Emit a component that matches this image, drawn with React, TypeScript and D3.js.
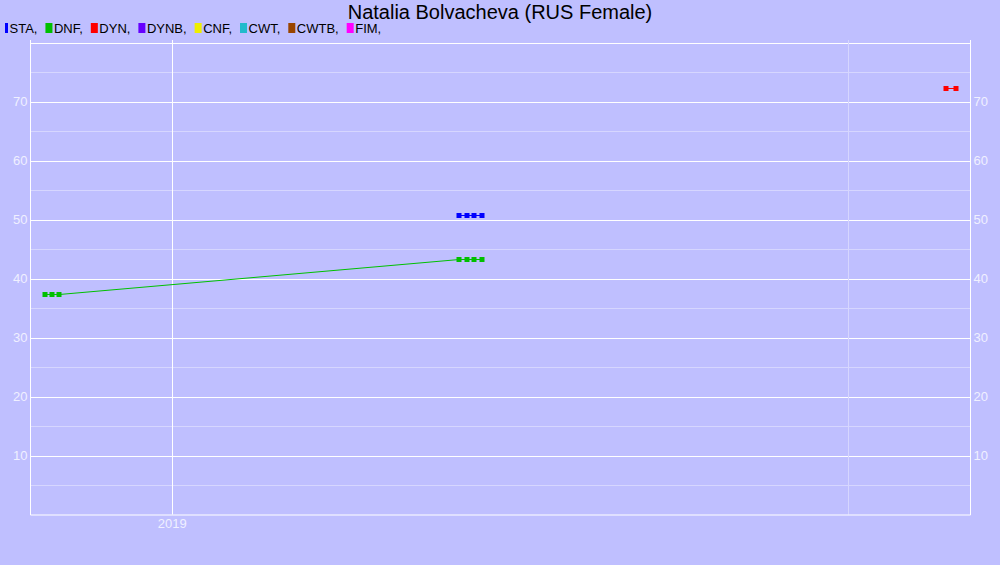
import React, { useEffect, useRef } from "react";
import * as d3 from "d3";

const title = "Natalia Bolvacheva (RUS Female)";
const legendNames = ["STA", "DNF", "DYN", "DYNB", "CNF", "CWT", "CWTB", "FIM"];
const legendColors = ["#0000FF", "#00C000", "#FF0000", "#6600FF", "#EEEE00", "#22BBCC", "#994400", "#FF00FF"];

const yTicks = [10, 20, 30, 40, 50, 60, 70];
const yMinor = [5, 15, 25, 35, 45, 55, 65, 75];
const xLabeledYears = ["2019"];
const xUnlabeledYears = ["2020"];

const staDates = ["2019-06-05", "2019-06-09", "2019-06-13", "2019-06-17"];
const staValues = [50.8, 50.8, 50.8, 50.8];

const dnfDates = ["2018-10-24", "2018-10-28", "2018-11-01", "2019-06-05", "2019-06-09", "2019-06-13", "2019-06-17"];
const dnfValues = [37.4, 37.4, 37.4, 43.3, 43.3, 43.3, 43.3];

const dynDates = ["2020-02-23", "2020-02-28"];
const dynValues = [72.3, 72.3];

const W = 1000;
const H = 565;
const plotLeft = 30.5;
const plotRight = 970.5;
const plotTop = 42.5;
const plotBottom = 514.5;

const parse = (s: string) => new Date(s + "T00:00:00Z");

export default function App() {
  const ref = useRef<SVGSVGElement | null>(null);

  useEffect(() => {
    const svg = d3.select(ref.current);
    svg.selectAll("*").remove();

    svg.append("rect").attr("width", W).attr("height", H).attr("fill", "#BFBFFF");

    const x = d3
      .scaleUtc()
      .domain([parse("2019-01-01"), parse("2020-01-01")])
      .range([172.3, 848.3]);
    const y = d3.scaleLinear().domain([0, 80]).range([plotBottom, plotTop]);

    const g = svg.append("g");

    g.selectAll("line.minor")
      .data(yMinor)
      .enter()
      .append("line")
      .attr("x1", plotLeft)
      .attr("x2", plotRight)
      .attr("y1", (d) => Math.round(y(d)) + 0.5)
      .attr("y2", (d) => Math.round(y(d)) + 0.5)
      .attr("stroke", "#D6D6FF")
      .attr("stroke-width", 1);

    g.selectAll("line.major")
      .data([...yTicks, 80])
      .enter()
      .append("line")
      .attr("x1", plotLeft)
      .attr("x2", plotRight)
      .attr("y1", (d) => Math.round(y(d)) + 0.5)
      .attr("y2", (d) => Math.round(y(d)) + 0.5)
      .attr("stroke", "#FFFFFF")
      .attr("stroke-width", 1);

    g.selectAll("line.vu")
      .data(xUnlabeledYears)
      .enter()
      .append("line")
      .attr("x1", (d) => Math.round(x(parse(d + "-01-01"))) + 0.5)
      .attr("x2", (d) => Math.round(x(parse(d + "-01-01"))) + 0.5)
      .attr("y1", 40)
      .attr("y2", plotBottom)
      .attr("stroke", "#D6D6FF");

    g.selectAll("line.vl")
      .data(xLabeledYears)
      .enter()
      .append("line")
      .attr("x1", (d) => Math.round(x(parse(d + "-01-01"))) + 0.5)
      .attr("x2", (d) => Math.round(x(parse(d + "-01-01"))) + 0.5)
      .attr("y1", 40)
      .attr("y2", plotBottom)
      .attr("stroke", "#FFFFFF");

    g.append("line").attr("x1", plotLeft).attr("x2", plotLeft).attr("y1", 40).attr("y2", plotBottom + 0.5).attr("stroke", "#FFFFFF");
    g.append("line").attr("x1", plotRight).attr("x2", plotRight).attr("y1", 40).attr("y2", plotBottom + 0.5).attr("stroke", "#FFFFFF");
    g.append("line").attr("x1", plotLeft).attr("x2", plotRight).attr("y1", plotBottom + 0.5).attr("y2", plotBottom + 0.5).attr("stroke", "#FFFFFF");

    const font = "Arial, 'Liberation Sans', sans-serif";
    g.selectAll("text.yl")
      .data(yTicks)
      .enter()
      .append("text")
      .attr("x", 27.5)
      .attr("y", (d) => y(d))
      .attr("dy", "0.36em")
      .attr("text-anchor", "end")
      .attr("font-family", font)
      .attr("font-size", 13)
      .attr("fill", "#F0F0FF")
      .text((d) => d);
    g.selectAll("text.yr")
      .data(yTicks)
      .enter()
      .append("text")
      .attr("x", 973.5)
      .attr("y", (d) => y(d))
      .attr("dy", "0.36em")
      .attr("text-anchor", "start")
      .attr("font-family", font)
      .attr("font-size", 13)
      .attr("fill", "#F0F0FF")
      .text((d) => d);

    g.selectAll("text.xl")
      .data(xLabeledYears)
      .enter()
      .append("text")
      .attr("x", (d) => x(parse(d + "-01-01")))
      .attr("y", 528)
      .attr("text-anchor", "middle")
      .attr("font-family", font)
      .attr("font-size", 13)
      .attr("fill", "#F0F0FF")
      .text((d) => d);

    const series = [
      { dates: dnfDates, values: dnfValues, color: legendColors[1] },
      { dates: staDates, values: staValues, color: legendColors[0] },
      { dates: dynDates, values: dynValues, color: legendColors[2] },
    ];
    const line = d3
      .line<[Date, number]>()
      .x((d) => x(d[0]))
      .y((d) => Math.round(y(d[1])) + 0.5);
    series.forEach((s) => {
      const pts: [Date, number][] = s.dates.map((d, i) => [parse(d), s.values[i]]);
      g.append("path").attr("d", line(pts)).attr("fill", "none").attr("stroke", s.color).attr("stroke-width", 1);
      g.selectAll(null)
        .data(pts)
        .enter()
        .append("rect")
        .attr("x", (d) => Math.round(x(d[0])) - 2.5)
        .attr("y", (d) => Math.round(y(d[1])) - 2)
        .attr("width", 5)
        .attr("height", 5)
        .attr("fill", s.color);
    });

    svg.append("text")
      .attr("x", 500)
      .attr("y", 19)
      .attr("text-anchor", "middle")
      .attr("font-family", font)
      .attr("font-size", 20)
      .attr("fill", "#000000")
      .text(title);

    let lx = 5;
    legendNames.forEach((name, i) => {
      const sw = i === 0 ? 3 : 7;
      svg.append("rect").attr("x", lx).attr("y", 23).attr("width", sw).attr("height", 10).attr("fill", legendColors[i]);
      const tx = lx + sw + 1.5;
      const t = svg
        .append("text")
        .attr("x", tx)
        .attr("y", 33)
        .attr("font-family", font)
        .attr("font-size", 13)
        .attr("fill", "#000000")
        .text(name + ",");
      const w = (t.node() as SVGTextElement).getComputedTextLength();
      lx = tx + w + 8;
    });
  }, []);

  return <svg ref={ref} width={W} height={H} style={{ display: "block", position: "absolute", left: 0, top: 0 }} />;
}
